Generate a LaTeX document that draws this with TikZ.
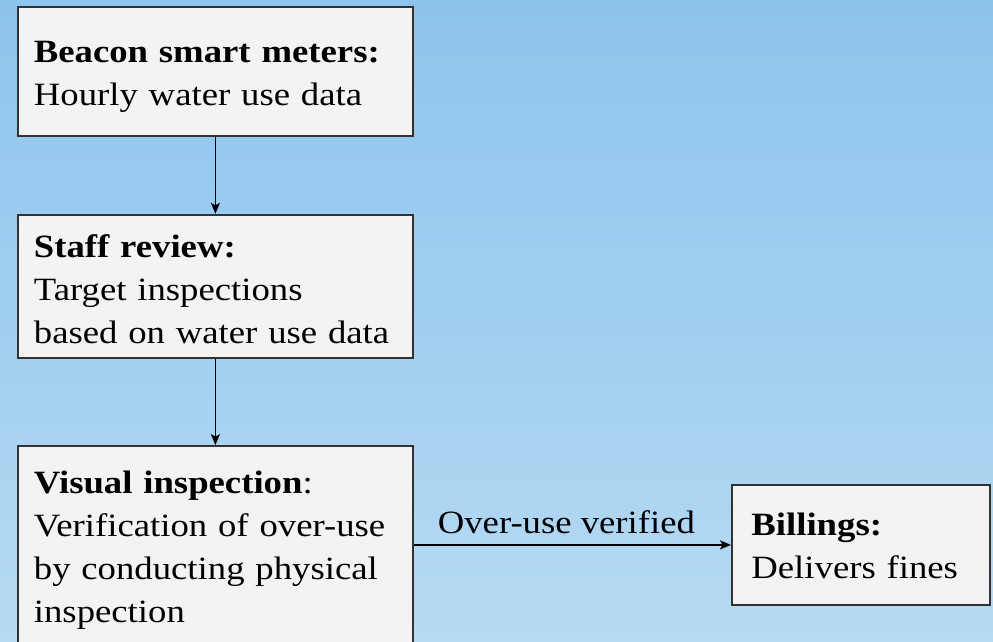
\documentclass[tikz,border=0pt]{standalone}
\usepackage{fontspec}
\setmainfont{Liberation Serif}[FakeStretch=1.13]
\usepackage{xcolor}
\usepackage{tikz}
\usetikzlibrary{arrows.meta, positioning}
\definecolor{skytop}{RGB}{141,196,236}
\definecolor{skybot}{RGB}{182,218,243}
\definecolor{boxfill}{RGB}{243,243,243}
\definecolor{boxline}{RGB}{50,50,50}
\tikzset{
  stagebox/.style={rectangle, draw=boxline, fill=boxfill, line width=1.8pt,
    text width=363pt, align=left, inner xsep=16pt, inner ysep=0pt,
    font=\fontsize{32.5}{43}\selectfont},
  flow/.style={-{Stealth[length=11pt,width=9pt,inset=2.5pt]}, line width=1.4pt, color=black}
}
\begin{document}
\begin{tikzpicture}[x=1pt, y=-1pt]
  \useasboundingbox (0,0) rectangle (993,641);
  \shade[top color=skytop, bottom color=skybot] (0,0) rectangle (993,641);

  \node[stagebox, anchor=north west, text height=56pt, text depth=73pt] (meters) at (17,6)
    {\textbf{Beacon smart meters:}\\Hourly water use data};
  \node[stagebox, below=77pt of meters, text height=42.5pt, text depth=100.5pt] (review)
    {\textbf{Staff review:}\\Target inspections\\based on water use data};
  \node[stagebox, below=86.5pt of review, text height=47pt, text depth=250pt] (visual)
    {\textbf{Visual inspection}:\\Verification of over-use\\by conducting physical\\inspection};
  \node[stagebox, anchor=north west, text width=219pt, inner xsep=19.5pt,
    text height=51pt, text depth=69pt] (billing) at (731,484)
    {\textbf{Billings:}\\Delivers fines};

  \draw[flow] (meters) -- (review);
  \draw[flow] (review) -- (visual);
  \draw[flow] (billing.west -| visual.east) -- (billing.west)
    node[pos=0.063, anchor=base west, yshift=11.5pt, font=\fontsize{32.5}{43}\selectfont] {Over-use verified};
\end{tikzpicture}
\end{document}
